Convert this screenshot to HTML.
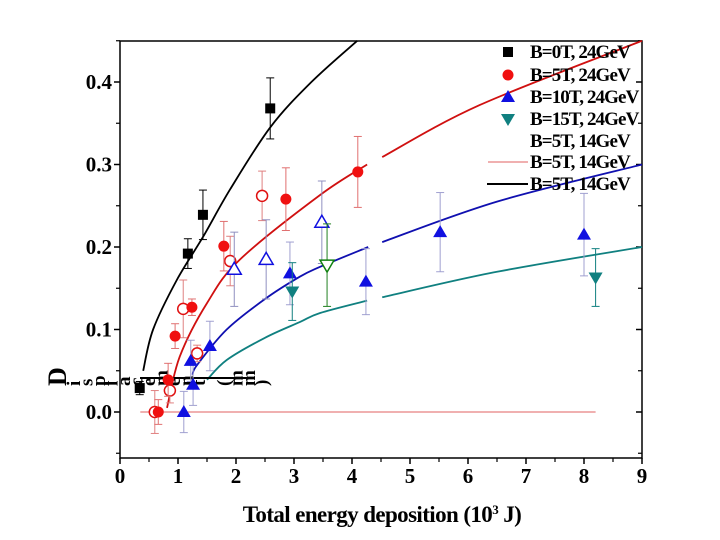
<!DOCTYPE html>
<html><head><meta charset="utf-8"><style>
html,body{margin:0;padding:0;background:#fff;}
svg{display:block;font-family:"Liberation Serif",serif;font-weight:bold;}
</style></head><body>
<svg id="chart" width="720" height="540" viewBox="0 0 720 540" xmlns="http://www.w3.org/2000/svg"></svg>
<script>
// ---- data ----
const xTicks=[0,1,2,3,4,5,6,7,8,9];
const yTicks=[0.0,0.1,0.2,0.3,0.4];
const yTickLabels=["0.0","0.1","0.2","0.3","0.4"];
const b0X=[0.34,1.17,1.43,2.59];
const b0Y=[0.029,0.192,0.239,0.368];
const b0E=[0.008,0.018,0.03,0.037];
const b5X=[0.66,0.83,0.95,1.24,1.79,2.86,4.1];
const b5Y=[0.0,0.039,0.092,0.127,0.201,0.258,0.291];
const b5E=[0.015,0.02,0.015,0.01,0.03,0.038,0.043];
const b5oX=[0.6,0.86,1.09,1.33,1.9,2.45];
const b5oY=[0.0,0.026,0.125,0.071,0.183,0.262];
const b5oE=[0.026,0.015,0.035,0.01,0.03,0.03];
const b10X=[1.1,1.26,1.22,1.55,2.93,4.24,5.52,8.0];
const b10Y=[0.0,0.033,0.062,0.08,0.168,0.158,0.218,0.215];
const b10E=[0.025,0.025,0.025,0.03,0.038,0.04,0.048,0.05];
const b10oX=[1.97,2.52,3.48];
const b10oY=[0.173,0.185,0.23];
const b10oE=[0.045,0.048,0.05];
const b15X=[2.97,8.2];
const b15Y=[0.146,0.163];
const b15E=[0.035,0.035];
const b15oX=[3.57];
const b15oY=[0.178];
const b15oE=[0.05];
const blackCurveX=[0.4,0.57,0.98,1.43,1.9,2.59,3.3,4.09];
const blackCurveY=[0.05,0.1,0.16,0.212,0.27,0.345,0.40,0.45];
const redCurveX=[0.81,1.03,1.5,2.07,3.45,4.26,4.52,6.2,9];
const redCurveY=[0.005,0.067,0.132,0.185,0.263,0.30,0.309,0.372,0.45];
const blueCurveX=[1.25,1.33,1.84,2.5,3.1,3.45,4.28,4.52,6.5,9];
const blueCurveY=[0.045,0.057,0.1,0.137,0.164,0.176,0.2,0.206,0.255,0.3];
const tealCurveX=[1.5,1.84,2.5,3.1,3.45,4.26,4.52,6.5,9];
const tealCurveY=[0.039,0.063,0.09,0.109,0.12,0.135,0.139,0.17,0.2];
const flatLineX=[0.35,8.2];
const flatLineY=[0,0];
const gapFrom=4.29, gapTo=4.5;

// ---- axes ----
const X0=120,X1=642,YT=41,YB=458;
const xs=v=>X0+(v-0)*(X1-X0)/9;
const ys=v=>412-v*825;
const svg=document.getElementById('chart');
const NS='http://www.w3.org/2000/svg';
function mk(tag,attrs,parent){const e=document.createElementNS(NS,tag);for(const k in attrs)e.setAttribute(k,attrs[k]);(parent||svg).appendChild(e);return e;}

let fr=mk('rect',{x:X0,y:YT,width:X1-X0,height:YB-YT,fill:'none',stroke:'#000','stroke-width':1.5});



xTicks.forEach((t,i)=>{
  const x=xs(t);
  let l=mk('line',{x1:x,y1:YB,x2:x,y2:YB+6,stroke:'#000','stroke-width':1.5});
  
  
  if(i<xTicks.length-1){const m=xs(t+0.5);mk('line',{x1:m,y1:YB,x2:m,y2:YB+4,stroke:'#000','stroke-width':1.2});}
  let tx=mk('text',{x:x,y:483,'text-anchor':'middle','font-size':21});
  tx.textContent=String(t);
  
  
});
const minorY=[-0.05,0.05,0.15,0.25,0.35,0.45];
minorY.forEach(v=>{const y=ys(v);if(y>=YT-1){mk('line',{x1:X0-4,y1:y,x2:X0,y2:y,stroke:'#000','stroke-width':1.2});mk('line',{x1:X1,y1:y,x2:X1-4,y2:y,stroke:'#000','stroke-width':1.2});}});
yTicks.forEach((t,i)=>{
  const y=ys(t);
  let l=mk('line',{x1:X0-6,y1:y,x2:X0,y2:y,stroke:'#000','stroke-width':1.5});
  
  
  mk('line',{x1:X1,y1:y,x2:X1-6,y2:y,stroke:'#000','stroke-width':1.5});
  let tx=mk('text',{x:112,y:y+7,'text-anchor':'end','font-size':21});
  tx.textContent=yTickLabels[i];
  
  
});

let xt=mk('text',{x:382,y:522,'text-anchor':'middle','font-size':23,'letter-spacing':'-0.6'});
xt.innerHTML='Total energy deposition (10<tspan dy="-8" font-size="13">3</tspan><tspan dy="8"> J)</tspan>';



// y title (rotated letters laid out horizontally)
const yTitle="Displacement (mm)";
const yg=mk('g',{});


let cx=66;
for(const ch of yTitle){
  const big=ch==='D';
  const fs=big?26:19;
  const t=mk('text',{x:cx,y:386,'font-size':fs,transform:`rotate(-90 ${cx} 386)`,'text-anchor':'start'},yg);
  t.textContent=ch;
  cx+=big?14:12.5;
}

function pathFrom(pts){
  if(pts.length<2)return '';
  let d='M'+pts[0][0].toFixed(1)+','+pts[0][1].toFixed(1);
  for(let i=0;i<pts.length-1;i++){
    const p0=pts[i-1]||pts[i],p1=pts[i],p2=pts[i+1],p3=pts[i+2]||p2;
    const c1=[p1[0]+(p2[0]-p0[0])/6,p1[1]+(p2[1]-p0[1])/6];
    const c2=[p2[0]-(p3[0]-p1[0])/6,p2[1]-(p3[1]-p1[1])/6];
    d+=` C${c1[0].toFixed(1)},${c1[1].toFixed(1)} ${c2[0].toFixed(1)},${c2[1].toFixed(1)} ${p2[0].toFixed(1)},${p2[1].toFixed(1)}`;
  }
  return d;
}
function curve(xa,ya,color,w,name){
  const g=mk('g',{});
  
  
  let seg=[],segs=[];
  for(let i=0;i<xa.length;i++){
    if(xa[i]>gapFrom&&xa[i]<gapTo)continue;
    if(seg.length&&seg.lastX<=gapFrom&&xa[i]>=gapTo){segs.push(seg);seg=[];}
    seg.push([xs(xa[i]),ys(ya[i])]);seg.lastX=xa[i];
  }
  segs.push(seg);
  segs.forEach(s=>mk('path',{d:pathFrom(s),fill:'none',stroke:color,'stroke-width':w},g));
}
curve(blackCurveX,blackCurveY,'#000',1.8,'black-fit-curve');
curve(redCurveX,redCurveY,'#d01010',1.8,'red-fit-curve');
curve(blueCurveX,blueCurveY,'#1010b0',1.8,'blue-fit-curve');
curve(tealCurveX,tealCurveY,'#108080',1.8,'teal-fit-curve');
let fl=mk('line',{x1:xs(flatLineX[0]),y1:ys(flatLineY[0]),x2:xs(flatLineX[1]),y2:ys(flatLineY[1]),stroke:'#e06060','stroke-width':1});


mk('line',{x1:140,y1:378,x2:250,y2:378,stroke:'#000','stroke-width':2});

function marker(g,type,x,y,color,open){
  const fill=open?'#fff':color, sw=open?1.5:0;
  if(type==='sq') return mk('rect',{x:x-5,y:y-5,width:10,height:10,fill:fill,stroke:color,'stroke-width':sw},g);
  if(type==='ci') return mk('circle',{cx:x,cy:y,r:5.5,fill:fill,stroke:color,'stroke-width':sw},g);
  if(type==='up') return mk('polygon',{points:`${x},${y-7} ${x-7},${y+5} ${x+7},${y+5}`,fill:fill,stroke:color,'stroke-width':sw},g);
  return mk('polygon',{points:`${x},${y+7} ${x-7},${y-5} ${x+7},${y-5}`,fill:fill,stroke:color,'stroke-width':sw},g);
}
function series(xa,ya,ea,type,color,ecolor,open,name){
  const g=mk('g',{});
  
  
  xa.forEach((xv,i)=>{
    const x=xs(xv),y1=ys(ya[i]-ea[i]),y2=ys(ya[i]+ea[i]);
    mk('line',{x1:x,y1:y1,x2:x,y2:y2,stroke:ecolor,'stroke-width':1},g);
    mk('line',{x1:x-4,y1:y1,x2:x+4,y2:y1,stroke:ecolor,'stroke-width':1},g);
    mk('line',{x1:x-4,y1:y2,x2:x+4,y2:y2,stroke:ecolor,'stroke-width':1},g);
  });
  xa.forEach((xv,i)=>{
    const m=marker(g,type,xs(xv),ys(ya[i]),color,open);
    
    
  });
}
series(b5oX,b5oY,b5oE,'ci','#e01010','#e08080',true,'b5t-14gev-points');
series(b10oX,b10oY,b10oE,'up','#1010e0','#9090c0',true,'b10t-open-points');
series(b15oX,b15oY,b15oE,'dn','#108010','#208020',true,'b15t-open-points');
series(b0X,b0Y,b0E,'sq','#000','#000',false,'b0t-24gev-points');
series(b5X,b5Y,b5E,'ci','#f01010','#e07070',false,'b5t-24gev-points');
series(b10X,b10Y,b10E,'up','#1010e0','#a0a0d0',false,'b10t-24gev-points');
series(b15X,b15Y,b15E,'dn','#108080','#108080',false,'b15t-24gev-points');

const legLabels=["B=0T, 24GeV","B=5T, 24GeV","B=10T, 24GeV","B=15T, 24GeV","B=5T, 14GeV","B=5T, 14GeV","B=5T, 14GeV"];
const lg=mk('g',{});


const legRows=[52,75,97,119,141,162,184];
legLabels.forEach((lab,i)=>{
  const y=legRows[i];
  const e=mk('g',{},lg);
  
  
  if(i===0) marker(e,'sq',508,y,'#000',false);
  if(i===1) marker(e,'ci',508,y,'#f01010',false);
  if(i===2) marker(e,'up',508,y,'#1010e0',false);
  if(i===3) marker(e,'dn',508,y,'#108080',false);
  if(i===5) mk('line',{x1:488,y1:y,x2:528,y2:y,stroke:'#e06060','stroke-width':1},e);
  if(i===6) mk('line',{x1:487,y1:y,x2:528,y2:y,stroke:'#000','stroke-width':2},e);
  const t=mk('text',{x:530,y:y+6,'font-size':19,'letter-spacing':'-0.9'},e);
  t.textContent=lab;
});
</script>
</body></html>
